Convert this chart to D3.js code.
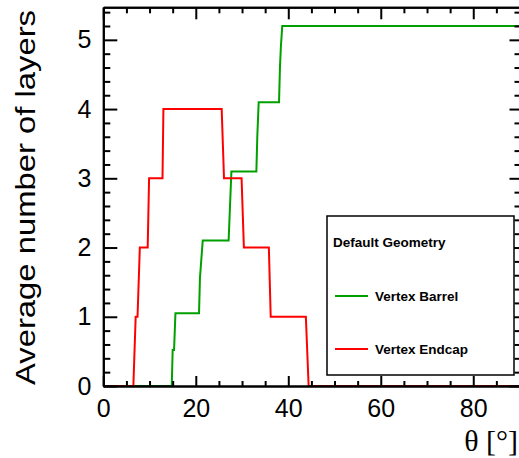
<!DOCTYPE html>
<html>
<head>
<meta charset="utf-8">
<script src="https://cdn.jsdelivr.net/npm/d3@7"></script>
<style>
    body { margin: 0; background: #fff; }
    svg { display: block; }
</style>
</head>
<body>
<div id="chart"></div>
<script>
// theta [deg] and average number of layers
const barrelTheta = [0, 14.8, 15.0, 15.3, 15.6, 20.7, 20.9, 21.5, 27.1, 27.4, 27.7, 33.1, 33.3, 33.6, 38.0, 38.2, 38.4, 38.7, 90];
const barrelLayers = [0, 0, 0.52, 0.52, 1.05, 1.05, 1.56, 2.1, 2.1, 2.6, 3.1, 3.1, 3.6, 4.1, 4.1, 4.6, 4.9, 5.2, 5.2];

const endcapTheta = [0, 6.5, 7.0, 7.4, 7.9, 9.6, 9.9, 12.8, 13.0, 25.6, 26.1, 29.9, 30.4, 35.8, 36.2, 43.8, 44.4, 90];
const endcapLayers = [0, 0, 1.0, 1.0, 2.0, 2.0, 3.0, 3.0, 4.0, 4.0, 3.0, 3.0, 2.0, 2.0, 1.0, 1.0, 0, 0];

const xTicks = [0, 20, 40, 60, 80];
const yTicks = [0, 1, 2, 3, 4, 5];
const legendTitle = "Default Geometry";
const seriesNames = ["Vertex Barrel", "Vertex Endcap"];
const seriesColors = ["#00a000", "#ff0000"];

let W = 519, H = 458;
let margin = {top: 7.3, right: -0.5, bottom: 72, left: 103.3},
    width = W - margin.left - margin.right,
    height = H - margin.top - margin.bottom;

let svg = d3.select("#chart")
    .append("svg")
    .attr("width", W)
    .attr("height", H)
    .append("g")
    .attr("transform", `translate(${margin.left}, ${margin.top})`);

let x = d3.scaleLinear().domain([0, 90]).range([0, width]);
let y = d3.scaleLinear().domain([0, 5.47]).range([height, 0]);

let series = [
    {name: seriesNames[0], color: seriesColors[0], pts: barrelTheta.map((t, i) => [t, barrelLayers[i]])},
    {name: seriesNames[1], color: seriesColors[1], pts: endcapTheta.map((t, i) => [t, endcapLayers[i]])}
];

let line = d3.line()
    .x(d => x(d[0]))
    .y(d => y(d[1]));

// data lines
svg.selectAll(".series")
    .data(series)
    .enter()
    .append("path")
    .attr("d", d => line(d.pts))
    .attr("fill", "none")
    .attr("stroke", d => d.color)
    .attr("stroke-width", 2);

// axes, ticks pointing inward (ROOT style)
function styleAxis(g) {
    g.selectAll("line").attr("stroke", "#000").attr("stroke-width", 2);
    g.select(".domain").attr("stroke", "#000").attr("stroke-width", 2);
    g.selectAll("text")
        .attr("fill", "#000")
        .style("font-family", "'Liberation Sans', Arial, sans-serif")
        .style("font-size", "25px");
}

let xMinor = x.ticks(18).filter(v => !xTicks.includes(v));
let yMinor = y.ticks(27).filter(v => !yTicks.includes(Math.round(v * 100) / 100));

// bottom
svg.append("g").attr("transform", `translate(0, ${height})`)
    .call(d3.axisBottom(x).tickValues(xMinor).tickSize(-5).tickSizeOuter(0).tickFormat(""))
    .call(styleAxis);
svg.append("g").attr("transform", `translate(0, ${height})`)
    .call(d3.axisBottom(x).tickValues(xTicks).tickSize(-10).tickSizeOuter(0).tickPadding(13).tickFormat(d3.format("d")))
    .call(styleAxis);
// top
svg.append("g")
    .call(d3.axisTop(x).tickValues(xMinor).tickSize(-6).tickSizeOuter(0).tickFormat(""))
    .call(styleAxis);
svg.append("g")
    .call(d3.axisTop(x).tickValues(xTicks).tickSize(-12).tickSizeOuter(0).tickFormat(""))
    .call(styleAxis);
// left
svg.append("g")
    .call(d3.axisLeft(y).tickValues(yMinor).tickSize(-7).tickSizeOuter(0).tickFormat(""))
    .call(styleAxis);
svg.append("g")
    .call(d3.axisLeft(y).tickValues(yTicks).tickSize(-14).tickSizeOuter(0).tickPadding(12).tickFormat(d3.format("d")))
    .call(styleAxis);
// right
svg.append("g").attr("transform", `translate(${width}, 0)`)
    .call(d3.axisRight(y).tickValues(yMinor).tickSize(-5).tickSizeOuter(0).tickFormat(""))
    .call(styleAxis);
svg.append("g").attr("transform", `translate(${width}, 0)`)
    .call(d3.axisRight(y).tickValues(yTicks).tickSize(-10).tickSizeOuter(0).tickFormat(""))
    .call(styleAxis);

// axis titles
svg.append("text")
    .attr("transform", `translate(${35 - margin.left}, ${197.5 - margin.top}) rotate(-90)`)
    .attr("text-anchor", "middle")
    .attr("textLength", 375)
    .attr("lengthAdjust", "spacingAndGlyphs")
    .style("font-family", "'Liberation Sans', Arial, sans-serif")
    .style("font-size", "28px")
    .text("Average number of layers");

svg.append("text")
    .attr("x", 518 - margin.left)
    .attr("y", 451 - margin.top)
    .attr("text-anchor", "end")
    .style("font-family", "'Liberation Serif', 'Times New Roman', serif")
    .style("font-size", "30px")
    .text("θ [°]");

// legend
let leg = svg.append("g")
    .attr("transform", `translate(${327 - margin.left}, ${216 - margin.top})`);
leg.append("rect")
    .attr("width", 187).attr("height", 159)
    .attr("fill", "#fff")
    .attr("stroke", "#000")
    .attr("stroke-width", 1.5);
leg.append("text")
    .attr("x", 6).attr("y", 31)
    .style("font-family", "'Liberation Sans', Arial, sans-serif")
    .style("font-size", "13.5px")
    .style("font-weight", "bold")
    .text(legendTitle);

let items = leg.selectAll(".item")
    .data(series)
    .enter()
    .append("g")
    .attr("transform", (d, i) => `translate(0, ${80 + i * 53})`);
items.append("line")
    .attr("x1", 8).attr("x2", 41)
    .attr("stroke", d => d.color)
    .attr("stroke-width", 2);
items.append("text")
    .attr("x", 48).attr("y", 5)
    .style("font-family", "'Liberation Sans', Arial, sans-serif")
    .style("font-size", "13.5px")
    .style("font-weight", "bold")
    .text(d => d.name);
</script>
</body>
</html>
